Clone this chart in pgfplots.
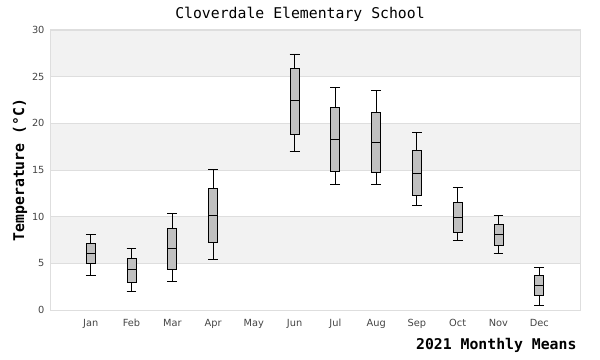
\documentclass[border=0pt]{standalone}
\usepackage{pgfplots}
\pgfplotsset{compat=1.18}
\usepgfplotslibrary{statistics}
\usepackage{fontspec}
\setmainfont{DejaVu Sans}
\newfontfamily\monof{DejaVu Sans Mono}
\definecolor{band}{HTML}{F2F2F2}
\definecolor{gridc}{HTML}{DEDEDE}
\definecolor{boxc}{HTML}{C0C0C0}
\definecolor{tickc}{HTML}{444444}
\pgfplotsset{set layers}
\newcommand{\bx}[6]{\addplot+[boxplot prepared={draw position=#1, lower whisker=#2, lower quartile=#3, median=#4, upper quartile=#5, upper whisker=#6, box extend=0.22, whisker extend=0.24}, draw=black, fill=boxc, line width=0.9pt, solid, mark=none] coordinates {};}
\begin{document}
\begin{tikzpicture}
\begin{axis}[
  at={(50bp,50bp)}, anchor=south west,
  scale only axis, width=530bp, height=280bp,
  xmin=-1, xmax=12, ymin=0, ymax=30,
  xtick={0,...,11},
  xticklabels={Jan,Feb,Mar,Apr,May,Jun,Jul,Aug,Sep,Oct,Nov,Dec},
  ytick={0,5,...,30},
  major tick length=0pt,
  boxplot/draw direction=y,
  ymajorgrids, grid style={gridc, line width=0.8pt},
  axis line style={gridc, line width=1pt},
  tick label style={font=\fontsize{9.8bp}{11bp}\selectfont, text=tickc},
  /pgf/number format/assume math mode=true,
  xticklabel style={yshift=-6bp},
  yticklabel style={xshift=-2bp},
  cycle list={{black}},
]
\begin{pgfonlayer}{axis background}
\fill[band] (axis cs:-1,25) rectangle (axis cs:12,30);
\fill[band] (axis cs:-1,15) rectangle (axis cs:12,20);
\fill[band] (axis cs:-1,5) rectangle (axis cs:12,10);
\end{pgfonlayer}
\bx{0}{3.7}{5.0}{6.1}{7.14}{8.14}
\bx{1}{2.0}{2.96}{4.3}{5.5}{6.6}
\bx{2}{3.1}{4.36}{6.6}{8.75}{10.36}
\bx{3}{5.43}{7.25}{10.18}{13.04}{15.1}
\bx{5}{16.96}{18.82}{22.4}{25.9}{27.43}
\bx{6}{13.4}{14.82}{18.32}{21.71}{23.86}
\bx{7}{13.4}{14.75}{17.96}{21.18}{23.54}
\bx{8}{11.21}{12.29}{14.64}{17.1}{19.0}
\bx{9}{7.46}{8.32}{9.93}{11.54}{13.14}
\bx{10}{6.07}{6.93}{8.14}{9.18}{10.14}
\bx{11}{0.5}{1.57}{2.64}{3.71}{4.57}
\end{axis}
\node[font=\monof\fontsize{14.8bp}{16bp}\selectfont, anchor=center] at (300bp,346bp) {Cloverdale Elementary School};
\node[font=\monof\bfseries\fontsize{14.8bp}{16bp}\selectfont, anchor=south east] at (580bp,4bp) {2021 Monthly Means};
\node[font=\monof\bfseries\fontsize{14.8bp}{16bp}\selectfont, rotate=90, anchor=center] at (20bp,190bp) {Temperature (°C)};
\path (0,0) rectangle (600bp,360bp);
\end{tikzpicture}
\end{document}
